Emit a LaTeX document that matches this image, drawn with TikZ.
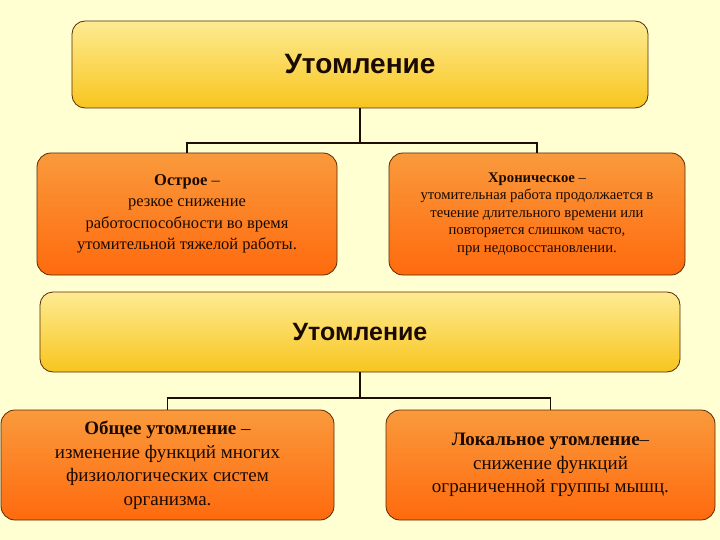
\documentclass[tikz,border=0pt]{standalone}
\usepackage{fontspec}
\setmainfont{Liberation Serif}
\newfontfamily\headfont{Liberation Sans}
\definecolor{bgyel}{HTML}{FFFFD2}
\definecolor{ytop}{HTML}{FDEB92}
\definecolor{ybot}{HTML}{F8C51E}
\definecolor{otop}{HTML}{F99A3C}
\definecolor{obot}{HTML}{FF6A0E}
\definecolor{edge}{HTML}{5A2A05}
\definecolor{linec}{HTML}{1E0E02}
\definecolor{txt}{HTML}{1A0A00}
\begin{document}
\begin{tikzpicture}[x=1pt,y=-1pt,
  ybox/.style={draw=edge, line width=0.8pt, rounded corners=13pt, top color=ytop, bottom color=ybot, inner sep=0pt, align=center, text=txt},
  obox/.style={draw=edge, line width=0.8pt, rounded corners=14pt, top color=otop, bottom color=obot, inner sep=0pt, align=center, text=txt},
  conn/.style={draw=linec, line width=1.8pt}]
\fill[bgyel] (0,0) rectangle (720,540);
\useasboundingbox (0,0) rectangle (720,540);

\node[ybox, minimum width=576pt, minimum height=87pt, font={\headfont\fontsize{28}{32}\selectfont\bfseries}] (top) at (360,64.5)
  {Утомление};
\node[obox, minimum width=300pt, minimum height=122pt, font={\fontsize{16.5}{21.5}\selectfont}] (acute) at (187,214)
  {\textbf{Острое} –\\ резкое снижение\\ работоспособности во время\\ утомительной тяжелой работы.};
\node[obox, minimum width=296pt, minimum height=122pt, font={\fontsize{14.7}{17.6}\selectfont}] (chron) at (537,214)
  {\textbf{Хроническое} –\\ утомительная работа продолжается в\\ течение длительного времени или\\ повторяется слишком часто,\\ при недовосстановлении.};

\node[ybox, minimum width=640pt, minimum height=80pt, font={\headfont\fontsize{25}{29}\selectfont\bfseries}] (mid) at (360,332)
  {Утомление};
\node[obox, minimum width=333pt, minimum height=110pt, font={\fontsize{19}{23.5}\selectfont}] (gen) at (167.5,465)
  {\textbf{Общее утомление} –\\ изменение функций многих\\ физиологических систем\\ организма.};
\node[obox, minimum width=329pt, minimum height=110pt, font={\fontsize{19}{23.5}\selectfont}] (loc) at (550.5,465)
  {\textbf{Локальное утомление}–\\ снижение функций\\ ограниченной группы мышц.};

\coordinate (j1) at (360,143);
\coordinate (j2) at (360,398);
\draw[conn] (top.south) -- (j1);
\draw[conn] (acute.north) |- (j1) -| (chron.north);
\draw[conn] (mid.south) -- (j2);
\draw[conn] (gen.north) |- (j2) -| (loc.north);
\end{tikzpicture}
\end{document}
